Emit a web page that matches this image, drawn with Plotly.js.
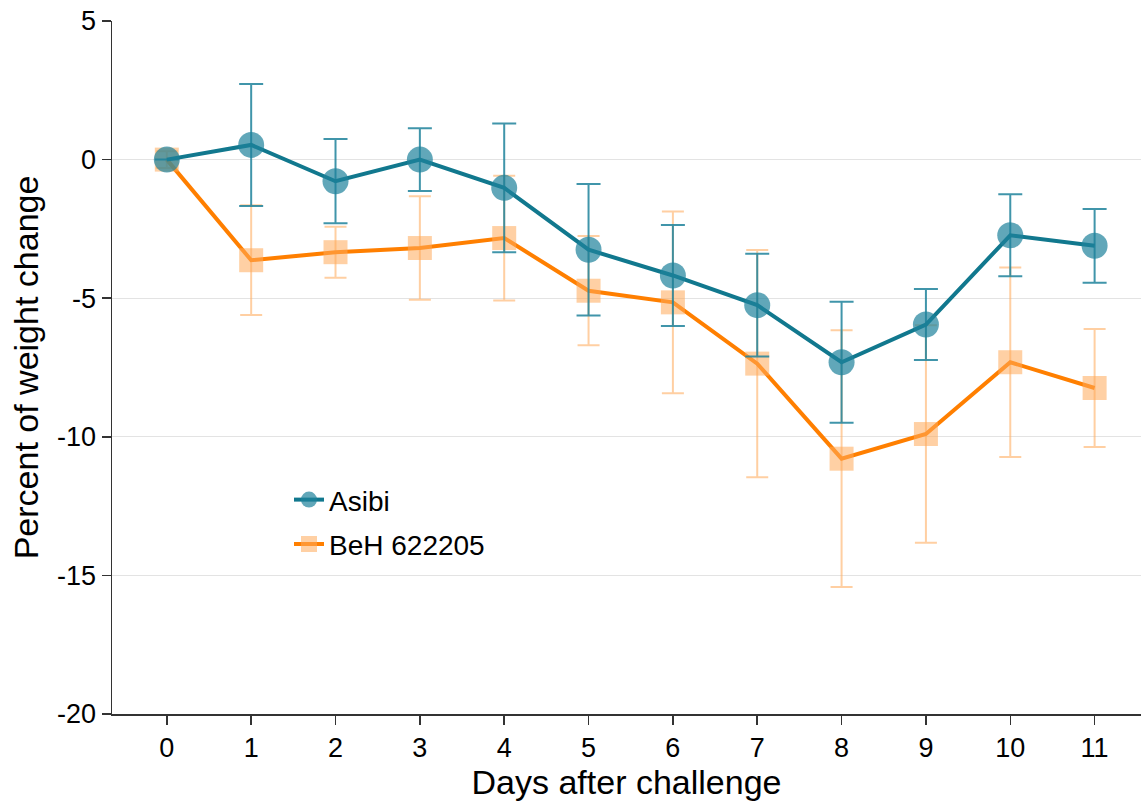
<!DOCTYPE html>
<html>
<head>
<meta charset="utf-8">
<script src="https://cdn.plot.ly/plotly-3.0.1.min.js"></script>
<style>html,body{margin:0;padding:0;background:#fff;}#chart{width:1141px;height:807px;}</style>
</head>
<body>
<div id="chart"></div>
<script>
const days = [0,1,2,3,4,5,6,7,8,9,10,11];
const asibiMean = [0, 0.53, -0.78, 0, -1.02, -3.25, -4.18, -5.25, -7.31, -5.95, -2.73, -3.11];
const asibiErr  = [0, 2.2, 1.52, 1.13, 2.32, 2.37, 1.82, 1.85, 2.18, 1.28, 1.48, 1.33];
const behMean   = [0, -3.63, -3.34, -3.19, -2.83, -4.73, -5.15, -7.36, -10.79, -9.9, -7.31, -8.24];
const behErr    = [0.3, 1.98, 0.92, 1.87, 2.25, 1.97, 3.28, 4.1, 4.63, 3.92, 3.42, 2.13];
const seriesNames = ["Asibi", "BeH 622205"];
const xTickVals = [0,1,2,3,4,5,6,7,8,9,10,11];
const yTickVals = [-20,-15,-10,-5,0,5];
const yTickText = ["-20","-15","-10","-5","0","5"];

const traces = [
  {
    x: days, y: behMean, name: seriesNames[1], legendgroup: 'b', legendrank: 2, type: 'scatter', mode: 'lines+markers',
    line: {color: 'rgb(255,127,0)', width: 4},
    marker: {symbol: 'square', size: 24, color: 'rgba(255,170,90,0.55)', line: {width: 0}},
    error_y: {type: 'data', array: behErr, visible: true, color: 'rgba(255,175,100,0.6)', thickness: 2, width: 11}
  },
  {
    x: days, y: asibiMean, name: seriesNames[0], legendgroup: 'a', legendrank: 1, type: 'scatter', mode: 'lines+markers',
    line: {color: 'rgb(17,120,142)', width: 4},
    marker: {symbol: 'circle', size: 26, color: 'rgba(30,130,155,0.7)', line: {width: 0}},
    error_y: {type: 'data', array: asibiErr, visible: true, color: 'rgba(30,130,155,0.85)', thickness: 2, width: 12}
  }
];

const layout = {
  width: 1141, height: 807,
  margin: {l: 112, r: 0, t: 21, b: 93},
  paper_bgcolor: '#fff', plot_bgcolor: '#fff',
  font: {family: 'Liberation Sans, Arial, sans-serif', color: '#000'},
  showlegend: true,
  legend: {x: 0.172, y: 0.345, xanchor: 'left', yanchor: 'top', traceorder: 'grouped',
           tracegroupgap: 5, font: {size: 28, color: '#000'}, bgcolor: 'rgba(0,0,0,0)'},
  xaxis: {
    range: [-0.65, 11.55], tickvals: xTickVals, ticktext: xTickVals.map(String),
    showgrid: false, zeroline: false, showline: true, linecolor: '#333', linewidth: 1.5,
    ticks: 'outside', ticklen: 9, tickcolor: '#333', tickwidth: 1.5,
    tickfont: {size: 27}, title: {text: 'Days after challenge', font: {size: 34}, standoff: 6}
  },
  yaxis: {
    range: [-20, 5], tickvals: yTickVals, ticktext: yTickText,
    showgrid: true, gridcolor: '#e3e3e3', gridwidth: 1, zeroline: false,
    showline: true, linecolor: '#333', linewidth: 1.5,
    ticks: 'outside', ticklen: 9, tickcolor: '#333', tickwidth: 1.5,
    tickfont: {size: 27}, title: {text: 'Percent of weight change', font: {size: 34}, standoff: 8}
  }
};

Plotly.newPlot('chart', traces, layout, {displayModeBar: false, staticPlot: true});
</script>
</body>
</html>
